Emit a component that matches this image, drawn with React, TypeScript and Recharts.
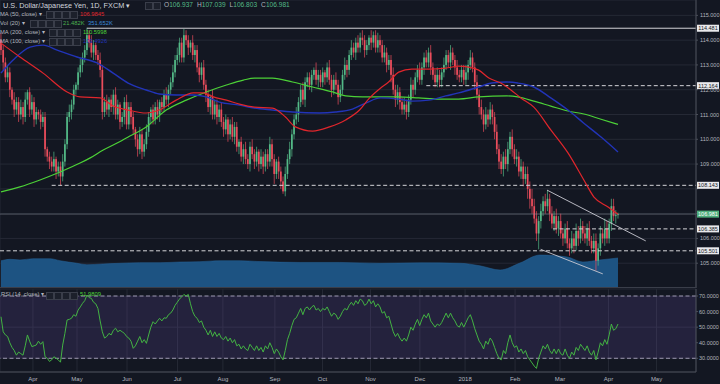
import React from 'react';
import {
  ComposedChart, Bar, Line, Area, XAxis, YAxis, CartesianGrid,
  ReferenceLine, ReferenceArea, ReferenceDot,
} from 'recharts';

const FONT = "'Liberation Sans', Arial, sans-serif";

// ---- Data ----
const firstOpen = 114.0;
const closes = [
  113.6, 113.1, 112.5, 112.7, 112.0, 111.6, 111.2, 111.5, 111.0, 111.3,
  110.9, 111.6, 111.9, 111.2, 111.5, 110.8, 111.1, 111.0, 110.7, 110.9,
  109.6, 109.3, 109.1, 108.9, 109.2, 108.7, 108.9, 108.5, 109.1, 109.8,
  110.9, 111.1, 111.4, 112.0, 112.2, 112.7, 113.0, 113.3, 113.6, 114.2,
  113.9, 113.5, 113.8, 113.4, 113.2, 112.8, 111.1, 111.5, 111.2, 111.6,
  111.3, 111.8, 111.0, 111.4, 110.7, 110.9, 111.5, 110.6, 111.3, 110.9,
  110.4, 110.0, 109.6, 110.2, 109.5, 109.8, 110.3, 110.9, 111.2, 110.8,
  111.3, 111.0, 111.5, 111.3, 111.8, 111.6, 112.0, 112.3, 112.7, 113.2,
  113.4, 113.9, 113.3, 114.2, 114.0, 113.7, 113.9, 113.4, 113.6, 112.9,
  112.6, 112.9, 112.2, 111.8, 111.3, 111.7, 111.0, 111.4, 110.9, 111.2,
  110.7, 110.4, 110.8, 110.2, 110.6, 110.1, 110.5, 109.7, 109.9, 109.3,
  109.6, 109.2, 109.0, 109.7, 109.4, 109.1, 109.5, 109.0, 109.3, 108.9,
  109.4, 109.1, 109.8, 109.2, 108.6, 109.1, 108.7, 108.3, 107.9, 108.6,
  109.2, 109.6, 110.2, 110.8, 111.0, 111.5, 112.0, 111.6, 112.3, 112.5,
  112.2, 112.6, 112.8, 112.4, 112.6, 112.3, 112.7, 112.5, 112.9, 112.4,
  112.0, 112.4, 112.2, 111.7, 112.0, 112.6, 113.0, 112.8, 113.4, 113.7,
  113.5, 113.9, 113.7, 114.1, 114.0, 113.6, 113.8, 114.1, 113.9, 114.2,
  113.7, 114.0, 113.8, 113.3, 113.5, 113.0, 113.2, 112.6, 112.0, 111.6,
  111.9, 111.5, 111.2, 111.4, 111.1, 111.6, 112.2, 112.0, 112.5, 112.8,
  112.4, 112.9, 113.3, 113.1, 113.5, 112.9, 112.6, 112.3, 112.6, 112.4,
  112.7, 113.0, 113.4, 113.1, 113.5, 113.2, 112.9, 112.6, 112.5, 112.8,
  112.4, 112.7, 113.0, 113.3, 112.9, 112.3, 111.8, 111.3, 111.0, 110.6,
  111.0, 110.8, 111.2, 110.9, 110.3, 109.6, 109.1, 108.8, 109.3, 109.0,
  109.6, 110.1, 109.6, 109.2, 109.3, 108.7, 108.9, 108.4, 108.6, 108.0,
  107.6, 107.3, 106.8, 106.2, 106.7, 107.1, 107.5, 107.3, 107.6, 107.0,
  106.6, 106.9, 106.4, 106.7, 106.2, 106.0, 106.4, 105.8, 105.6, 106.0,
  105.7, 106.3, 106.0, 106.5, 106.2, 106.0, 106.4, 105.9, 105.6, 105.9,
  105.1, 105.6, 106.2, 106.0, 106.4, 106.0, 106.6, 107.3, 106.9, 106.94,
  106.981,
];
// wick lengths in tenths of a yen
const wickUp = [
  3, 2, 2, 3, 2, 1, 3, 2, 2, 3,  2, 3, 1, 2, 3, 2, 2, 1, 2, 2,
  2, 1, 2, 2, 3, 1, 2, 2, 3, 2,  2, 3, 2, 2, 1, 2, 3, 2, 2, 3,
  2, 3, 2, 1, 2, 3, 2, 2, 3, 1,  2, 2, 3, 2, 1, 2, 2, 3, 2, 2,
  2, 1, 2, 3, 2, 2, 3, 2, 1, 2,  2, 3, 1, 2, 2, 3, 2, 2, 3, 2,
  3, 2, 2, 2.5, 2, 2, 1, 3, 2, 2,  2, 2, 3, 2, 2, 1, 3, 2, 2, 2,
  3, 2, 2, 1, 2, 3, 2, 2, 1, 2,  2, 3, 2, 2, 3, 2, 2, 1, 3, 2,
  2, 2, 3, 2, 2, 1, 2, 2, 2, 3,  2, 3, 2, 2, 3, 2, 2, 3, 2, 2,
  2, 2, 1, 3, 2, 2, 2, 1, 2, 3,  2, 2, 3, 2, 2, 2, 3, 2, 2, 3,
  2, 2, 3, 2, 3, 2, 2, 1, 3, 1.5,  2, 3, 2, 2, 3, 2, 2, 2, 3, 2,
  3, 2, 2, 3, 2, 2, 3, 2, 2, 2,  3, 2, 2, 3, 2, 3, 2, 2, 3, 2,
  2, 3, 2, 2, 3, 2, 2, 3, 2, 2,  2, 3, 2, 3, 2, 2, 3, 2, 3, 2,
  3, 2, 3, 2, 2, 3, 2, 3, 2, 3,  3, 2, 3, 2, 3, 2, 3, 2, 3, 3,
  3, 4, 3, 3, 2, 3, 2, 3, 3.5, 2,  3, 2, 3, 2, 3, 2, 2, 3, 2, 3,
  2, 3, 2, 3, 2, 3, 2, 3, 2, 3,  3, 2, 3, 2, 4, 3, 2, 3, 3, 2,
  0.6,
];
const wickDown = [
  2, 3, 2, 2, 3, 2, 3, 2, 3, 2,  3, 2, 2, 3, 2, 3, 2, 2, 3, 2,
  3, 2, 3, 2, 2, 3, 2, 3.5, 2, 2,  2, 2, 3, 2, 2, 2, 2, 3, 2, 2,
  2, 2, 3, 2, 2, 3, 3, 2, 2, 3,  2, 3, 2, 2, 3, 2, 3, 2, 2, 3,
  2, 3, 3, 2, 3, 2, 2, 2, 3, 2,  2, 2, 3, 2, 2, 2, 3, 2, 2, 2,
  2, 3, 2, 2, 2, 3, 2, 2, 3, 2,  3, 2, 2, 3, 2, 3, 2, 2, 3, 2,
  2, 3, 2, 3, 2, 2, 3, 2, 3, 2,  3, 2, 2, 3, 2, 3, 2, 3, 2, 3,
  2, 3, 2, 3, 4, 2, 3, 3, 1, 2,  2, 2, 3, 2, 2, 3, 2, 2, 3, 2,
  2, 3, 2, 2, 3, 2, 2, 3, 2, 2,  3, 2, 2, 3, 2, 2, 2, 3, 2, 2,
  2, 3, 2, 2, 2, 3, 2, 2, 3, 2,  2, 2, 3, 2, 2, 3, 2, 3, 2, 3,
  2, 3, 2, 2, 3, 2, 2, 3, 2, 2,  2, 2, 3, 2, 2, 3, 2, 2, 2, 3,
  3, 2, 2, 2, 3, 2, 3, 2, 2, 2,  2, 2, 3, 2, 2, 3, 2, 3, 2, 3,
  2, 3, 2, 3, 3, 2, 3, 2, 3, 2,  3, 2, 3, 2, 3, 2, 3, 3, 2, 4,
  4, 3, 2, 3, 6.4, 3, 2, 3, 2, 3,  2, 3, 2, 3, 2, 3, 2, 2, 3, 2,
  3, 2, 3, 2, 3, 2, 3, 2, 2, 2,  4, 2, 3, 2, 3, 2, 2, 3, 2, 3,
  1.4,
];
const rsiValues = [
  56.7, 47, 45, 44, 40, 37, 35, 32, 34, 33,
  32, 38, 45, 41, 37.5, 38, 38.5, 41, 39, 40.7,
  31, 30, 28, 29, 31, 30, 29, 27.5, 38.5, 46,
  54.6, 55, 55.7, 58, 57, 61, 63, 65.3, 67, 70.6,
  69, 68.5, 66, 65, 62, 54, 47, 43, 44, 46,
  45, 48, 49.3, 47, 48, 47, 46, 44, 43, 41,
  36.4, 38, 41, 44, 40, 42, 39.6, 45, 50, 53.5,
  52, 54, 55.7, 54, 56, 55.7, 58, 59, 61, 64,
  66, 68, 69.5, 71, 70, 71, 65, 60, 57, 55.7,
  53, 54, 50, 48, 45, 48, 44, 47, 44, 46,
  43, 42, 44, 41, 43, 40, 42, 38, 39, 36,
  38, 36, 35, 39, 37, 35, 38, 35, 37, 34,
  38, 36, 40, 37, 33, 36, 34, 31, 29, 35,
  42, 46, 51, 55, 56, 59, 62, 58, 62, 63,
  61, 63, 64, 61, 62, 60, 62, 61, 63, 60,
  57, 59, 58, 55, 57, 60, 62, 61, 64, 66,
  64, 67, 65, 68, 67, 64, 65, 68, 65, 67,
  63, 65, 63, 59, 60, 56, 57, 52, 47, 44,
  46, 43, 41, 43, 41, 45, 50, 48, 52, 55,
  51, 55, 58, 56, 59, 54, 52, 50, 52, 51,
  53, 56, 59, 56, 59, 56, 54, 51, 50, 53,
  50, 53, 56, 58, 54, 49, 45, 41, 39, 36,
  41, 39, 43, 41, 37, 33, 30, 29, 35, 33,
  40, 45, 40, 37, 38, 34, 36, 33, 35, 31,
  29, 27, 25, 23.5, 30, 34, 38, 36, 39, 35,
  33, 36, 33, 36, 33, 32, 36, 32, 30, 34,
  32, 37, 35, 39, 37, 35, 38, 34, 32, 35,
  29, 34, 40, 38, 42, 39, 45, 52, 48, 49,
  52,
];
// moving averages: [bar index, value]
const ma50Points = [
  [0, 113.88], [8.6, 113.32], [19.1, 112.67], [30, 111.91], [35.9, 111.71], [45, 111.67],
  [50.9, 111.34], [57.7, 111.18], [65.9, 111.06], [71.8, 111.18], [79.5, 111.58], [87.3, 111.87],
  [91.8, 111.87], [96.4, 111.71], [102.3, 111.58], [108.2, 111.42], [115, 111.3], [123.2, 111.26],
  [129.1, 110.9], [133.6, 110.5], [141.4, 110.33], [149.1, 110.5], [156.4, 110.78], [162.7, 111.18],
  [167.3, 111.67], [172.3, 112.07], [175.9, 112.31], [180.5, 112.71], [186.4, 112.83], [194.1, 112.83],
  [201.8, 112.87], [207.7, 112.95], [212.3, 112.91], [216.8, 112.79], [221.4, 112.47], [226.8, 112.27],
  [231.4, 111.99], [235.9, 111.67], [241.8, 111.3], [249.5, 110.38], [257.3, 109.45], [264.5, 108.36],
  [269.1, 107.67], [275.5, 107.27], [280, 106.98],
];
const ma100Points = [
  [0, 112.67], [5.5, 113.2], [13.2, 113.72], [19.1, 113.8], [25.5, 113.6], [34.5, 113.32],
  [43.6, 113.08], [50.9, 112.67], [57.7, 112.27], [65.9, 111.99], [71.8, 111.83], [79.5, 111.79],
  [87.3, 111.79], [93.2, 111.71], [99.1, 111.5], [108.2, 111.38], [115, 111.26], [123.2, 111.18],
  [132.3, 111.1], [144.5, 111.06], [151.8, 111.1], [159.5, 111.22], [165.5, 111.46], [172.3, 111.67],
  [180.5, 111.62], [186.4, 111.54], [194.1, 111.58], [201.8, 111.75], [207.7, 111.87], [216.8, 112.11],
  [222.7, 112.27], [229.5, 112.31], [234.5, 112.27], [241.8, 112.11], [249.5, 111.67], [257.3, 111.18],
  [264.5, 110.65], [272.3, 110.09], [280, 109.49],
];
const ma200Points = [
  [0, 107.88], [8.6, 108.08], [17.7, 108.36], [26.8, 108.68], [35.9, 109.04], [40.5, 109.25],
  [46.4, 109.57], [52.7, 109.85], [57.7, 110.09], [65.9, 110.5], [75, 111.18], [84.1, 111.58],
  [93.2, 111.91], [102.3, 112.19], [110, 112.39], [115, 112.47], [123.2, 112.47], [132.3, 112.31],
  [141.4, 112.11], [150.5, 111.91], [156.4, 111.75], [164.1, 111.71], [172.3, 111.71], [180.5, 111.71],
  [189.5, 111.67], [198.6, 111.62], [207.7, 111.62], [216.8, 111.71], [229.5, 111.75], [234.5, 111.71],
  [241.8, 111.54], [249.5, 111.34], [257.3, 111.14], [264.5, 111.02], [272.3, 110.81], [280, 110.6],
];
// volume moving average (K): [bar index, value]
const volPoints = [
  [0, 320], [4.1, 337], [8.6, 329], [14.5, 344], [22.2, 344], [26.8, 320], [34.5, 290], [39, 273],
  [46.3, 282], [54, 290], [63, 297], [72.2, 297], [81.2, 305], [90.3, 309], [99.4, 320], [108.5, 320],
  [117.5, 310], [135.7, 300], [153.8, 300], [172, 290], [190.2, 295], [208.3, 290], [217.4, 260],
  [226.5, 211], [235.5, 293], [244.6, 387], [256.9, 364], [264.1, 305], [271.8, 329], [280, 352],
];
const monthTicks = [14.5, 34.5, 57.2, 80.1, 100.7, 124.3, 145.9, 167.7, 190.1, 210.6, 233.3, 253.7, 275.7, 297.5];
const monthLabels = ['Apr', 'May', 'Jun', 'Jul', 'Aug', 'Sep', 'Oct', 'Nov', 'Dec', '2018', 'Feb', 'Mar', 'Apr', 'May'];
const priceGridTicks = [105, 106, 107, 108, 109, 110, 111, 112, 113, 114, 115];
const priceLabelTicks = [105, 106, 109, 110, 111, 112, 113, 114, 115];
const rsiTicks = [30, 40, 50, 60, 70];
const lastOHLC = [106.937, 107.039, 106.803, 106.981];
const levelTags = [
  { v: 114.481, bg: '#e9e9ec', fg: '#131722' },
  { v: 112.164, bg: '#e9e9ec', fg: '#131722' },
  { v: 108.143, bg: '#e9e9ec', fg: '#131722' },
  { v: 106.981, bg: '#4fae7c', fg: '#ffffff' },
  { v: 106.385, bg: '#e9e9ec', fg: '#131722' },
  { v: 105.501, bg: '#e9e9ec', fg: '#131722' },
];
// horizontal rays: level, start bar, dashed
const rays = [
  { v: 114.481, from: 39, dashed: false },
  { v: 112.164, from: 193, dashed: true },
  { v: 108.143, from: 23, dashed: true },
  { v: 106.385, from: 250.5, dashed: true },
  { v: 105.501, from: -0.45, dashed: true },
];
// channel trend lines: [bar, price] pairs
const channelUpper = [[247.8, 107.95], [292.6, 105.9]];
const channelLower = [[244.9, 105.56], [273.1, 104.57]];

const X_MIN = -0.45;
const X_MAX = 315.4;
const P_MIN = 104.0;
const P_MAX = 115.62;

const candles = closes.map((c, i) => {
  const o = i === 0 ? firstOpen : closes[i - 1];
  const h = Math.max(o, c) + wickUp[i] / 10;
  const l = Math.min(o, c) - wickDown[i] / 10;
  return { i, o, h, l, c, range: [l, h], rsi: rsiValues[i] };
});
const toPts = (arr: number[][]) => arr.map(([i, v]) => ({ i, v }));

const UP = '#53b987';
const DOWN = '#eb4d5c';
const GRID = '#252935';
const AXIS_TXT = '#b2b5be';

const CandleShape = (props: any) => {
  const { x, y, width, height, payload } = props;
  if (!payload || x == null) return null;
  const top = Math.min(y, y + height);
  const bot = Math.max(y, y + height);
  const span = payload.h - payload.l || 1;
  const toY = (v: number) => top + ((payload.h - v) / span) * (bot - top);
  const up = payload.c >= payload.o;
  const col = up ? UP : DOWN;
  const cx = x + width / 2;
  const yo = toY(payload.o);
  const yc = toY(payload.c);
  const bt = Math.min(yo, yc);
  const bh = Math.max(0.8, Math.abs(yo - yc));
  return (
    <g>
      <line x1={cx} x2={cx} y1={top} y2={bot} stroke={col} strokeWidth={0.7} />
      <rect x={cx - 0.85} y={bt} width={1.7} height={bh} fill={col} />
    </g>
  );
};

const TagShape = (props: any) => {
  const { cx, cy, text, bg, fg } = props;
  return (
    <g>
      <rect x={cx + 1} y={cy - 3.5} width={22} height={7} fill={bg} />
      <text x={cx + 12} y={cy + 2} textAnchor="middle" fontSize={5.5} fontFamily={FONT} fill={fg}>{text}</text>
    </g>
  );
};

const Boxes = ({ left, top }: { left: number; top: number }) => (
  <>
    {[0, 1, 2, 3].map((k) => (
      <div key={k} style={{ position: 'absolute', left: left + k * 8, top, width: 6, height: 6, border: '1px solid #3a3e4a', background: '#1c202b' }} />
    ))}
  </>
);

const legendText = (text: string, left: number, top: number, color: string, size = 5.8) => (
  <div style={{ position: 'absolute', left, top, fontSize: size, color, whiteSpace: 'nowrap', lineHeight: 1 }}>{text}</div>
);

const PriceTick = (props: any) => {
  const { x, y, payload } = props;
  if (!priceLabelTicks.includes(payload.value)) return null;
  return (
    <text x={x + 1} y={y + 2} fontSize={5.5} fill={AXIS_TXT} fontFamily={FONT}>{payload.value.toFixed(3)}</text>
  );
};

export default function App() {
  return (
    <div style={{ position: 'fixed', left: 0, top: 0, width: 720, height: 384, background: '#131722', overflow: 'hidden', fontFamily: FONT }}>
      <div style={{ position: 'absolute', left: 0, top: 0 }}>
        <ComposedChart width={720} height={288} data={candles} margin={{ top: 0, right: 0, bottom: 0, left: 0 }}>
          <CartesianGrid yAxisId="p" stroke={GRID} />
          <XAxis type="number" dataKey="i" domain={[X_MIN, X_MAX]} ticks={monthTicks} height={0} tick={false} axisLine={false} tickLine={false} allowDataOverflow />
          <YAxis yAxisId="p" orientation="right" width={24} domain={[P_MIN, P_MAX]} ticks={priceGridTicks} allowDataOverflow
            tick={<PriceTick />} tickSize={2} tickMargin={1} tickLine={{ stroke: '#4a4e59' }} axisLine={{ stroke: '#4a4e59' }} />
          <YAxis yAxisId="vol" hide domain={[0, 3380]} allowDataOverflow />
          <Area yAxisId="vol" data={toPts(volPoints)} dataKey="v" type="monotone" fill="#1d5382" fillOpacity={1} stroke="#26659a" strokeWidth={0.5} dot={false} activeDot={false} isAnimationActive={false} />
          <ReferenceLine yAxisId="p" y={lastOHLC[3]} stroke="#8d949e" strokeOpacity={0.6} strokeWidth={0.8} />
          {rays.map((r) => (
            <ReferenceLine key={r.v} yAxisId="p" segment={[{ x: r.from, y: r.v }, { x: X_MAX, y: r.v }]}
              stroke="#d4d4d8" strokeWidth={1} strokeDasharray={r.dashed ? '4 2.5' : undefined} />
          ))}
          <Bar yAxisId="p" dataKey="range" barSize={2} shape={<CandleShape />} isAnimationActive={false} />
          <Line yAxisId="p" data={toPts(ma200Points)} dataKey="v" type="monotone" stroke="#4cd137" strokeWidth={1.2} dot={false} activeDot={false} isAnimationActive={false} />
          <Line yAxisId="p" data={toPts(ma100Points)} dataKey="v" type="monotone" stroke="#2234b8" strokeWidth={1.4} dot={false} activeDot={false} isAnimationActive={false} />
          <Line yAxisId="p" data={toPts(ma50Points)} dataKey="v" type="monotone" stroke="#e0262c" strokeWidth={1.2} dot={false} activeDot={false} isAnimationActive={false} />
          <ReferenceLine yAxisId="p" segment={channelUpper.map(([x, y]) => ({ x, y }))} stroke="#c9cad2" strokeWidth={0.9} />
          <ReferenceLine yAxisId="p" segment={channelLower.map(([x, y]) => ({ x, y }))} stroke="#c9cad2" strokeWidth={0.9} />
          {levelTags.map((t) => (
            <ReferenceDot key={t.v} yAxisId="p" x={X_MAX} y={t.v} r={0}
              shape={(p: any) => <TagShape {...p} text={t.v.toFixed(3)} bg={t.bg} fg={t.fg} />} />
          ))}
        </ComposedChart>
      </div>
      <div style={{ position: 'absolute', left: 0, top: 287, width: 696, height: 1, background: '#3a3e4a' }} />
      <div style={{ position: 'absolute', left: 0, top: 288 }}>
        <ComposedChart width={720} height={96} data={candles} margin={{ top: 1, right: 0, bottom: 0, left: 0 }}>
          <ReferenceArea y1={30} y2={70} fill="#7e57c2" fillOpacity={0.17} stroke="none" />
          <CartesianGrid stroke={GRID} />
          <XAxis type="number" dataKey="i" domain={[X_MIN, X_MAX]} ticks={monthTicks} height={12} allowDataOverflow
            tickFormatter={(v: number) => monthLabels[monthTicks.indexOf(v)] ?? ''}
            tick={{ fontSize: 6, fill: AXIS_TXT, fontFamily: FONT }} tickLine={false} tickSize={3}
            axisLine={{ stroke: '#4a4e59' }} />
          <YAxis orientation="right" width={24} domain={[21.2, 74.5]} ticks={rsiTicks} allowDataOverflow
            tickFormatter={(v: number) => v.toFixed(4)} tick={{ fontSize: 5.5, fill: AXIS_TXT, fontFamily: FONT }}
            tickSize={2} tickMargin={1} tickLine={{ stroke: '#4a4e59' }} axisLine={{ stroke: '#4a4e59' }} />
          <ReferenceLine y={70} stroke="#a9a4bd" strokeDasharray="4 2.5" strokeWidth={0.9} />
          <ReferenceLine y={30} stroke="#a9a4bd" strokeDasharray="4 2.5" strokeWidth={0.9} />
          <Line dataKey="rsi" type="linear" stroke="#43b343" strokeWidth={1} dot={false} activeDot={false} isAnimationActive={false} />
        </ComposedChart>
      </div>

      {/* legends */}
      {legendText('U.S. Dollar/Japanese Yen, 1D, FXCM \u25BE', 3, 1.5, '#d1d4dc', 7.3)}
      <div style={{ position: 'absolute', left: 145, top: 1.5, width: 6, height: 6, border: '1px solid #3a3e4a', background: '#1c202b' }} />
      <div style={{ position: 'absolute', left: 153, top: 1.5, width: 6, height: 6, border: '1px solid #3a3e4a', background: '#1c202b' }} />
      <div style={{ position: 'absolute', left: 164, top: 2, fontSize: 6.6, whiteSpace: 'nowrap', lineHeight: 1 }}>
        {['O', 'H', 'L', 'C'].map((k, j) => (
          <span key={k} style={{ marginRight: 4 }}>
            <span style={{ color: AXIS_TXT }}>{k}</span>
            <span style={{ color: UP }}>{lastOHLC[j].toFixed(3)}</span>
          </span>
        ))}
      </div>
      {legendText('MA (50, close) \u25BE', 0, 11.5, AXIS_TXT)}
      <Boxes left={46} top={11} />
      {legendText('106.9845', 80, 11.5, '#e0262c')}
      {legendText('Vol (20) \u25BE', 0, 20.5, AXIS_TXT)}
      <Boxes left={30} top={20} />
      {legendText('21.482K', 63, 20.5, '#4caf50')}
      {legendText('351.652K', 88, 20.5, '#3d8bd9')}
      {legendText('MA (200, close) \u25BE', 0, 29.8, AXIS_TXT)}
      <Boxes left={49} top={29.3} />
      {legendText('110.5998', 83, 29.8, '#4cd137')}
      {legendText('MA (100, close) \u25BE', 0, 38.8, AXIS_TXT)}
      <Boxes left={49} top={38.3} />
      {legendText('109.4926', 83, 38.8, '#2234b8')}
      {legendText('RSI (14, close) \u25BE', 1, 292, AXIS_TXT)}
      <Boxes left={46} top={291.5} />
      {legendText('51.9809', 80, 292, '#4cd137')}
    </div>
  );
}
